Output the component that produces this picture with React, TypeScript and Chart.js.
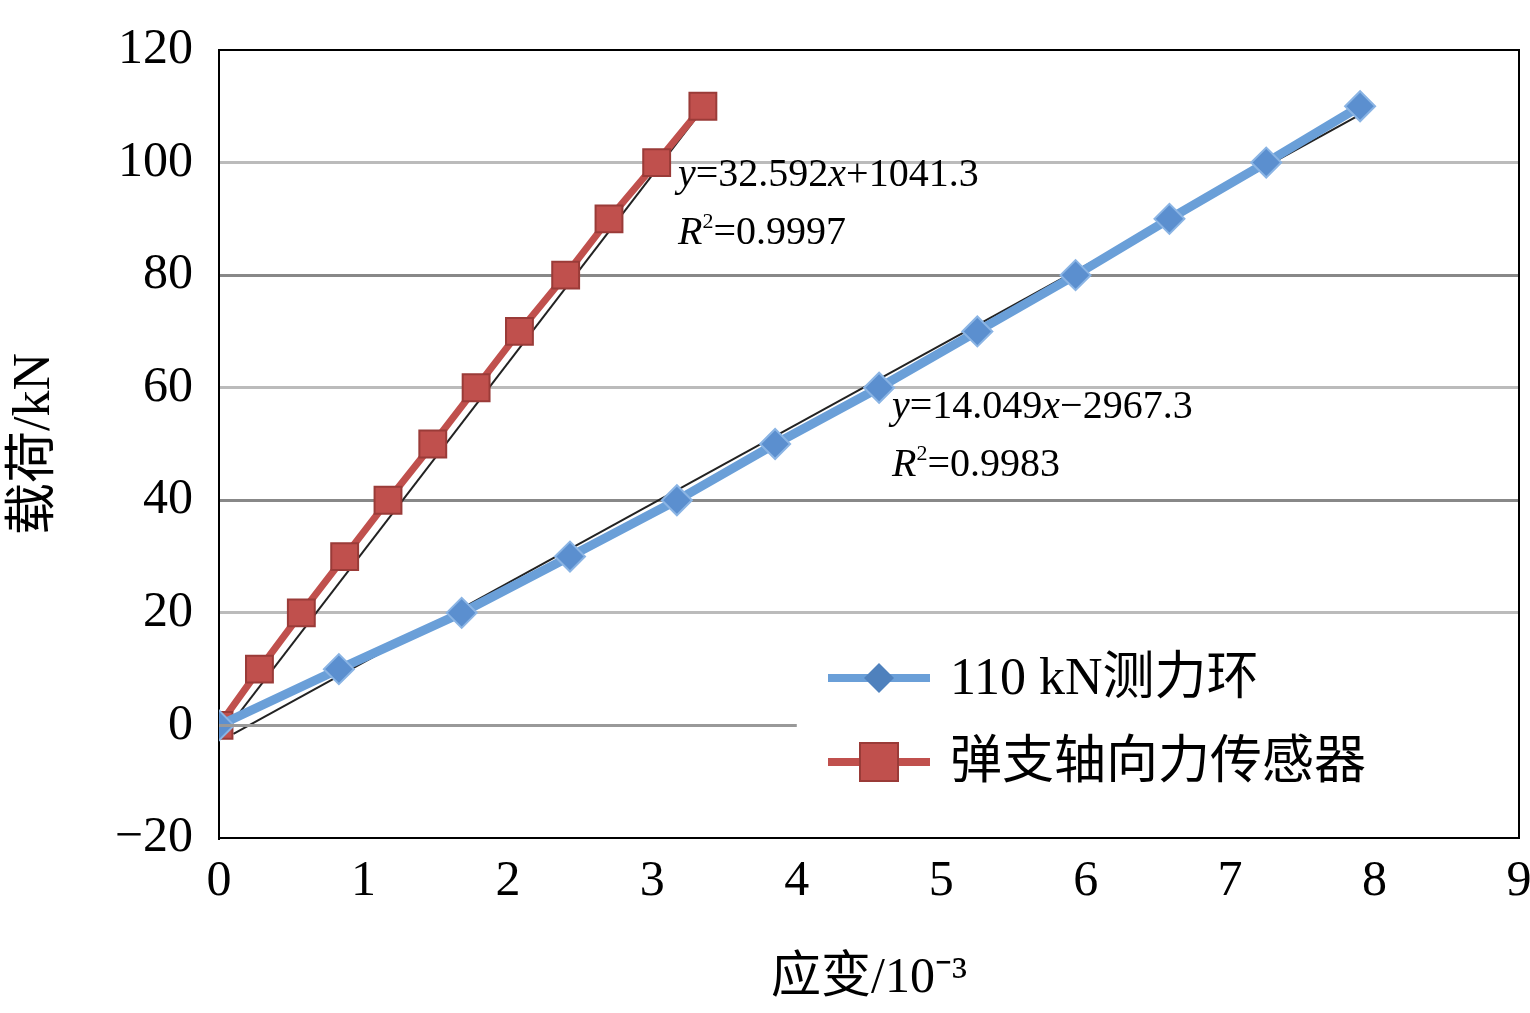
import React, { useEffect, useRef } from "react";
import { Chart, registerables } from "chart.js";
Chart.register(...registerables);

const blueX = [0, 0.83, 1.68, 2.43, 3.17, 3.85, 4.57, 5.25, 5.93, 6.58, 7.25, 7.9];
const blueY = [0, 10, 20, 30, 40, 50, 60, 70, 80, 90, 100, 110];
const redX = [0, 0.28, 0.57, 0.87, 1.17, 1.48, 1.78, 2.08, 2.4, 2.7, 3.03, 3.35];
const redY = [0, 10, 20, 30, 40, 50, 60, 70, 80, 90, 100, 110];
const redFitX = [0, 3.35];
const redFitY = [-2.5, 109.5];
const blueFitX = [0.1, 7.9];
const blueFitY = [-1.5, 108.5];
const zeroLineX = [0, 4];
const zeroLineY = [0, 0];
const yTicks = [-20, 0, 20, 40, 60, 80, 100, 120];
const xTicks = [0, 1, 2, 3, 4, 5, 6, 7, 8, 9];
const legendLabels = ["110 kN测力环", "弹支轴向力传感器"];

const pts = (xs: number[], ys: number[]) => xs.map((x, i) => ({ x, y: ys[i] }));
const SERIF = "'Liberation Serif', 'Noto Sans CJK SC', serif";
const OFF = 6;

export default function App() {
  const ref = useRef<HTMLCanvasElement>(null);
  useEffect(() => {
    const overlay = {
      id: "overlay",
      afterDraw(c: any) {
        const ctx = c.ctx;
        const a = c.chartArea;
        ctx.save();
        ctx.translate(0, OFF);
        ctx.strokeStyle = "#000";
        ctx.lineWidth = 2;
        ctx.beginPath();
        ctx.moveTo(a.left, a.top - OFF);
        ctx.lineTo(a.right, a.top - OFF);
        ctx.lineTo(a.right, a.bottom - OFF);
        ctx.stroke();
        ctx.fillStyle = "#000";
        const eq = (x: number, y: number, v: string, r: string) => {
          ctx.font = `italic 40px ${SERIF}`;
          ctx.fillText("y", x, y);
          let w = ctx.measureText("y").width;
          ctx.font = `40px ${SERIF}`;
          const parts = v.split("x");
          ctx.fillText(parts[0], x + w, y);
          w += ctx.measureText(parts[0]).width;
          ctx.font = `italic 40px ${SERIF}`;
          ctx.fillText("x", x + w, y);
          w += ctx.measureText("x").width;
          ctx.font = `40px ${SERIF}`;
          ctx.fillText(parts[1], x + w, y);
          const y2 = y + 58;
          ctx.font = `italic 40px ${SERIF}`;
          ctx.fillText("R", x, y2);
          const rw = ctx.measureText("R").width;
          ctx.font = `22px ${SERIF}`;
          ctx.fillText("2", x + rw, y2 - 16);
          ctx.font = `40px ${SERIF}`;
          ctx.fillText(r, x + rw + 11, y2);
        };
        ctx.textBaseline = "alphabetic";
        eq(678, 186, "=32.592x+1041.3", "=0.9997");
        eq(892, 418, "=14.049x−2967.3", "=0.9983");
        const leg = (y: number, color: string, line: string, shape: string, label: string) => {
          ctx.strokeStyle = line;
          ctx.lineWidth = 8;
          ctx.beginPath();
          ctx.moveTo(828, y);
          ctx.lineTo(930, y);
          ctx.stroke();
          ctx.fillStyle = color;
          if (shape === "d") {
            ctx.beginPath();
            ctx.moveTo(879, y - 15);
            ctx.lineTo(894, y);
            ctx.lineTo(879, y + 15);
            ctx.lineTo(864, y);
            ctx.closePath();
            ctx.fill();
          } else {
            ctx.fillRect(860, y - 19, 38, 38);
            ctx.strokeStyle = "#9a3b38";
            ctx.lineWidth = 2;
            ctx.strokeRect(860, y - 19, 38, 38);
          }
          ctx.fillStyle = "#000";
          ctx.font = `52px ${SERIF}`;
          ctx.textBaseline = "middle";
          ctx.fillText(label, 950, y + 2);
        };
        leg(678, "#4f81bd", "#6a9fd8", "d", legendLabels[0]);
        leg(762, "#c0504d", "#c0504d", "s", legendLabels[1]);
        ctx.restore();
      },
    };
    const chart = new Chart(ref.current!, {
      type: "scatter",
      data: {
        datasets: [
          { data: pts(zeroLineX, zeroLineY), showLine: true, borderColor: "#999", borderWidth: 3, pointRadius: 0 },
          { data: pts(blueX, blueY), showLine: true, borderColor: "#6a9fd8", borderWidth: 9, pointStyle: "rectRot", pointRadius: 15, backgroundColor: "#5b8fcf", pointBorderColor: "#8ab4e4", pointBorderWidth: 2 },
          { data: pts(redX, redY), showLine: true, borderColor: "#c0504d", borderWidth: 7, pointStyle: "rect", pointRadius: 19, backgroundColor: "#c0504d", pointBorderColor: "#9a3b38", pointBorderWidth: 2 },
          { data: pts(blueFitX, blueFitY), showLine: true, borderColor: "#222", borderWidth: 2, pointRadius: 0 },
          { data: pts(redFitX, redFitY), showLine: true, borderColor: "#222", borderWidth: 2, pointRadius: 0 },
        ],
      },
      options: {
        animation: false,
        responsive: false,
        layout: { padding: { top: 0, right: 0, left: 0, bottom: 0 } },
        plugins: { legend: { display: false }, tooltip: { enabled: false } },
        scales: {
          x: {
            min: 0, max: 9,
            afterBuildTicks: (s: any) => { s.ticks = xTicks.map((v) => ({ value: v })); },
            afterFit: (s: any) => { s.height = 175; },
            grid: { display: false, drawOnChartArea: false, drawTicks: true, tickLength: 10, color: "#000" },
            border: { color: "#000", width: 2 },
            ticks: { color: "#000", font: { family: SERIF, size: 50 }, padding: 4 },
            title: { display: true, text: "应变/10⁻³", color: "#000", font: { family: SERIF, size: 50 }, padding: { top: 6 } },
          },
          y: {
            min: -20, max: 120,
            afterBuildTicks: (s: any) => { s.ticks = yTicks.map((v) => ({ value: v })); },
            afterFit: (s: any) => { s.width = 219; },
            grid: {
              color: (c: any) => (c.tick && (c.tick.value === 0 || c.tick.value === -20 || c.tick.value === 120) ? "rgba(0,0,0,0)" : (c.tick && c.tick.value % 40 === 0 ? "#888" : "#bbb")),
              lineWidth: 3, drawTicks: false,
            },
            border: { color: "#000", width: 2 },
            ticks: { color: "#000", font: { family: SERIF, size: 50 }, padding: 26, callback: (v: any) => (v < 0 ? "−" + Math.abs(v) : String(v)) },
            title: { display: true, text: "载荷/kN", color: "#000", font: { family: SERIF, size: 52 }, padding: { bottom: 0 } },
          },
        },
      },
      plugins: [overlay],
    });
    return () => chart.destroy();
  }, []);
  return (
    <div style={{ position: "fixed", left: 0, top: 0, width: 1530, height: 1013, overflow: "hidden", background: "#fff" }}>
      <canvas ref={ref} width={1540} height={1019} style={{ position: "absolute", left: 0, top: -OFF, width: 1540, height: 1019 }} />
    </div>
  );
}
